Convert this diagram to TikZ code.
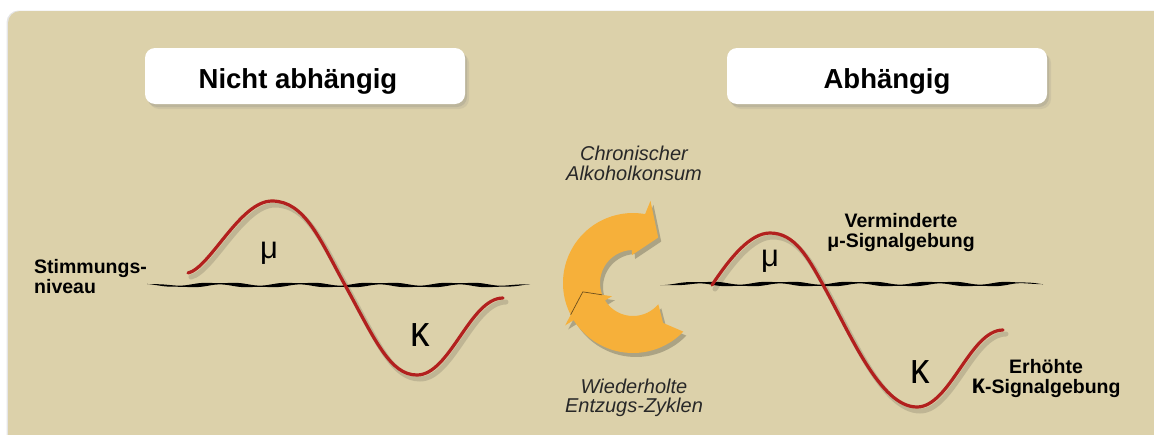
\documentclass[tikz,border=0pt]{standalone}
\usepackage{fontspec}
\setmainfont{Liberation Sans}
\usetikzlibrary{shadows}

\definecolor{panel}{RGB}{220,209,170}
\definecolor{signalred}{RGB}{178,32,30}
\definecolor{arroworange}{RGB}{246,176,58}
\definecolor{textgray}{RGB}{40,40,40}

% red signal curves (pixel coordinates, y grows downwards)
\newcommand\freshcurve{(188,273) .. controls (210,268) and (240,201) .. (272,201)
  .. controls (305,201) and (320,240) .. (345,285)
  .. controls (375,340) and (390,375) .. (417,375)
  .. controls (450,375) and (470,298) .. (503,298)}
\newcommand\addictcurve{(712,285) .. controls (730,258) and (750,233) .. (770,233)
  .. controls (795,233) and (808,258) .. (822,283)
  .. controls (850,333) and (880,407) .. (917,407)
  .. controls (950,407) and (970,330) .. (1003,330)}

% the two halves of the circular arrow (polar, centre at origin, y up)
\newcommand\cycleupper{(201:33) -- (190:51) -- (207:70)
  arc[start angle=207, end angle=80, radius=70] -- (78:84) -- (61:52)
  -- (92:28) -- (92:33) arc[start angle=92, end angle=201, radius=33] -- cycle}
\newcommand\cyclelower{(-40:33) -- (-53:50) -- (-44:70)
  arc[start angle=-44, end angle=-148, radius=70] -- (-148:80) -- (-170:51)
  -- (-148:25) -- (-148:33) arc[start angle=-148, end angle=-40, radius=33] -- cycle}

% wavy black baseline with varying thickness: #1 start x, #2 end x, #3 level
\newcommand\moodline[3]{%
  \fill[wave] plot[domain=#1:#2, samples=160, smooth]
    (\x, {#3 + 1.2*sin(4.5*\x) - (0.6+1.3*(cos(4.5*\x))^2)*min(1,(\x-#1)/35,(#2-\x)/35)})
    -- plot[domain=#2:#1, samples=160, smooth]
    (\x, {#3 + 1.2*sin(4.5*\x) + (0.6+1.3*(cos(4.5*\x))^2)*min(1,(\x-#1)/35,(#2-\x)/35)})
    -- cycle;}

\begin{document}
\begin{tikzpicture}[x=1pt, y=-1pt,
  titlebox/.style={fill=white, rounded corners=10pt, minimum width=320pt,
    minimum height=56pt, text height=24pt, text depth=0pt, inner sep=0pt,
    font=\fontsize{27.5}{30}\selectfont\bfseries,
    drop shadow={shadow xshift=2pt, shadow yshift=-3pt, opacity=0.22},
    drop shadow={shadow xshift=4pt, shadow yshift=-5pt, opacity=0.15}},
  boldlabel/.style={font=\fontsize{19.5}{20}\selectfont\bfseries, inner sep=0pt, align=center},
  cyclelabel/.style={font=\fontsize{20}{19.5}\selectfont\itshape, text=textgray,
    inner sep=0pt, align=center},
  greek/.style={font=\fontsize{31}{31}\selectfont, inner sep=0pt, anchor=base},
  signal/.style={draw=signalred, line width=3.2pt, line cap=round},
  signalshadow/.style={draw=black, line width=5pt, line cap=round, opacity=0.13},
  wave/.style={fill=black},
  cyclearrow/.style={fill=arroworange},
  cycleshadow/.style={fill=black, opacity=0.22},
  seamline/.style={draw=black!55!arroworange, line width=0.7pt},
]
\useasboundingbox (0,0) rectangle (1154,434);
\fill[white] (0,0) rectangle (1154,434);

% panel
\fill[black, opacity=0.10, rounded corners=12pt] (6.5,10.5) rectangle (1175,450);
\fill[panel, rounded corners=12pt] (8,11) rectangle (1175,450);

% headings
\node[titlebox] (free) at (305,76) {Nicht abhängig\hspace*{14pt}};
\node[titlebox] (dependent) at (887,76) {Abhängig};

% baselines
\moodline{147}{530}{285}
\moodline{660}{1043}{284}

% signal curves with their shadows
\draw[signalshadow, shift={(3,4)}] \freshcurve;
\draw[signalshadow, shift={(3,4)}] \addictcurve;
\draw[signal] \freshcurve;
\draw[signal] \addictcurve;

% receptor labels
\node[greek] (mu free) at (269,258.5) {μ};
\node[greek] (kappa free) at (420,346.5) {\scalebox{1.25}[1.4]{κ}};
\node[greek] (mu dep) at (770,266.5) {μ};
\node[greek] (kappa dep) at (920,383) {\scalebox{1.25}[1.4]{κ}};

% side labels (base anchor sits on the last line)
\node[boldlabel, align=left, anchor=base west,
  font=\fontsize{19.5}{16}\selectfont\bfseries] (mood) at (34,293) {Stimmungs-\\niveau};
\node[boldlabel, anchor=base] (less mu) at (901,247) {Verminderte\\μ-Signalgebung};
\node[boldlabel, anchor=base] (more kappa) at (1046,393)
  {Erhöhte\\\scalebox{1.25}[1.4]{κ}-Signalgebung};

% circular arrow between the two states
\begin{scope}[shift={(633,283)}, y=1pt]
  \fill[cycleshadow, shift={(3,-4)}] \cyclelower;
  \fill[cycleshadow, shift={(3,-4)}] \cycleupper;
  \fill[cyclearrow] \cyclelower;
  \fill[cyclearrow] \cycleupper;
  \draw[seamline] (207:70) -- (190:51) -- (201:33);
\end{scope}

\node[cyclelabel, anchor=base] (drinking) at (634,180) {Chronischer\\Alkoholkonsum};
\node[cyclelabel, anchor=base] (withdrawal) at (634,412.5) {Wiederholte\\Entzugs-Zyklen};
\end{tikzpicture}
\end{document}
